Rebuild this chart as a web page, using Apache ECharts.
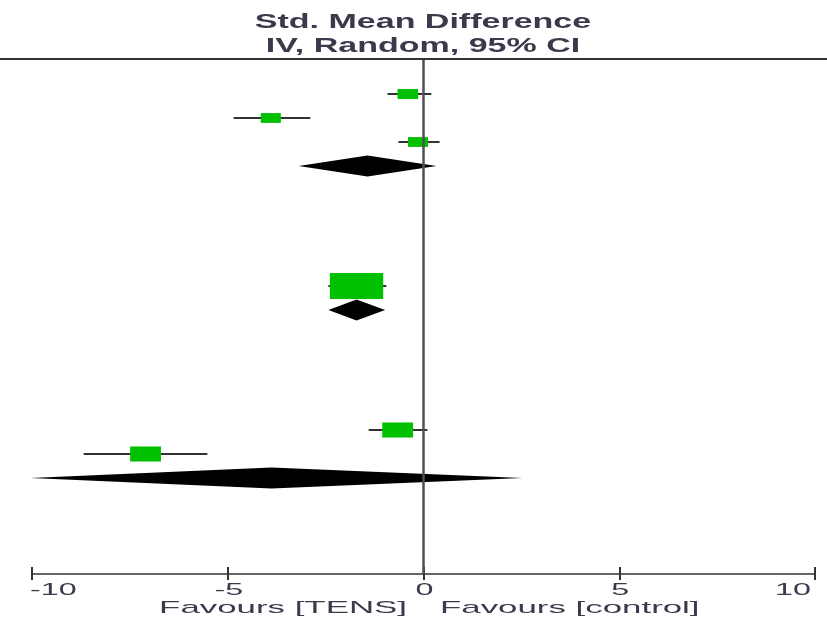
<!DOCTYPE html>
<html><head><meta charset="utf-8">
<script src="https://cdn.jsdelivr.net/npm/echarts@6/dist/echarts.min.js"></script>
<style>html,body{margin:0;padding:0;background:#fff}#c{width:827px;height:618px}</style>
</head><body><div id="c"></div>
<script>
// ---- data ----
const studyRow = [0, 1, 2, 8, 14, 15];
const studyEst = [-0.40, -3.90, -0.14, -1.71, -0.66, -7.10];
const studyLow = [-0.92, -4.85, -0.64, -2.43, -1.40, -8.68];
const studyHigh = [0.20, -2.89, 0.41, -0.95, 0.10, -5.52];
const studyWeight = [15.0, 14.2, 14.2, 100, 33.5, 33.5];
const poolRow = [3, 9, 16];
const poolEst = [-1.43, -1.71, -3.88];
const poolLow = [-3.19, -2.43, -10.04];
const poolHigh = [0.33, -0.98, 2.53];
const tickValues = [-10, -5, 0, 5, 10];
const tickLabels = ['-10', '-5', '0', '5', '10'];
const titleLines = ['Std. Mean Difference', 'IV, Random, 95% CI'];
const favourLabels = ['Favours [TENS]', 'Favours [control]'];

const TXT = '#3a3a4c';
const FONT = '"Liberation Sans", Arial, sans-serif';

const ciData = studyRow.map((r, i) => [studyLow[i], studyHigh[i], r]);
const sqData = studyRow.map((r, i) => [studyEst[i], r, studyWeight[i]]);
const dmData = poolRow.map((r, i) => [poolLow[i], poolEst[i], poolHigh[i], r]);

const chart = echarts.init(document.getElementById('c'), null, {renderer: 'canvas'});
chart.setOption({
  animation: false,
  backgroundColor: '#fff',
  grid: {left: 32, right: 12, top: 59, bottom: 44, containLabel: false},
  xAxis: [{
    type: 'value', min: -10, max: 10, interval: 5, position: 'bottom',
    axisLine: {show: true, onZero: false, lineStyle: {color: '#333', width: 1.5}},
    axisTick: {show: true, length: 6, lineStyle: {color: '#333', width: 2}},
    axisLabel: {show: false},
    splitLine: {show: false}
  }, {
    type: 'value', min: -10, max: 10, interval: 5, position: 'bottom', offset: 0,
    axisLine: {show: false, onZero: false},
    axisTick: {show: true, inside: true, length: 7, lineStyle: {color: '#333', width: 2}},
    axisLabel: {show: false},
    splitLine: {show: false}
  }],
  yAxis: {type: 'value', inverse: true, min: -1.4583, max: 20, show: false},
  series: [{
    type: 'custom', name: 'ci', data: ciData, clip: false, z: 2,
    encode: {x: [0, 1], y: 2},
    renderItem: function (params, api) {
      const a = api.coord([api.value(0), api.value(2)]);
      const b = api.coord([api.value(1), api.value(2)]);
      return {type: 'line', shape: {x1: a[0], y1: a[1], x2: b[0], y2: b[1]},
        style: {stroke: '#333', lineWidth: 1.8}};
    }
  }, {
    type: 'custom', name: 'studies', data: sqData, clip: false, z: 3,
    encode: {x: 0, y: 1},
    renderItem: function (params, api) {
      const c = api.coord([api.value(0), api.value(1)]);
      const h = 2.6 * Math.sqrt(api.value(2));
      const w = h * 2.05;
      return {type: 'rect', shape: {x: c[0] - w / 2, y: c[1] - h / 2, width: w, height: h},
        style: {fill: '#00c000'}};
    }
  }, {
    type: 'custom', name: 'pooled', data: dmData, clip: false, z: 3,
    encode: {x: [0, 1, 2], y: 3},
    renderItem: function (params, api) {
      const l = api.coord([api.value(0), api.value(3)]);
      const m = api.coord([api.value(1), api.value(3)]);
      const r = api.coord([api.value(2), api.value(3)]);
      const hh = 10.5;
      return {type: 'polygon', shape: {points: [[l[0], l[1]], [m[0], m[1] - hh], [r[0], r[1]], [m[0], m[1] + hh]]},
        style: {fill: '#000'}};
    },
    markLine: {
      silent: true, symbol: 'none', z: 10,
      label: {show: false},
      lineStyle: {color: '#505050', width: 2.5, type: 'solid'},
      data: [{xAxis: 0}]
    }
  }]
});

// texts
const g = [];
g.push({type: 'line', shape: {x1: 0, y1: 59, x2: 827, y2: 59}, style: {stroke: '#333', lineWidth: 2}, z: 20});
const titleY = [22, 46];
titleLines.forEach((t, i) => {
  g.push({type: 'text', x: 423, y: titleY[i], scaleX: 1.7, z: 20,
    style: {text: t, fill: TXT, font: 'bold 20px ' + FONT, textAlign: 'center', textVerticalAlign: 'middle'}});
});
tickValues.forEach((v, i) => {
  const px = chart.convertToPixel({xAxisIndex: 0}, v);
  let align = 'center';
  if (i === 0) align = 'left';
  if (i === tickValues.length - 1) align = 'right';
  g.push({type: 'text', x: i === 0 ? px - 2 : (i === tickValues.length - 1 ? px - 4 : px + 1), y: 590, scaleX: 1.9, z: 20,
    style: {text: tickLabels[i], fill: TXT, font: '17px ' + FONT, textAlign: align, textVerticalAlign: 'middle'}});
});
g.push({type: 'text', x: 407, y: 608, scaleX: 2.05, z: 20,
  style: {text: favourLabels[0], fill: TXT, font: '17px ' + FONT, textAlign: 'right', textVerticalAlign: 'middle'}});
g.push({type: 'text', x: 440, y: 608, scaleX: 2.05, z: 20,
  style: {text: favourLabels[1], fill: TXT, font: '17px ' + FONT, textAlign: 'left', textVerticalAlign: 'middle'}});
chart.setOption({graphic: g});
</script></body></html>
